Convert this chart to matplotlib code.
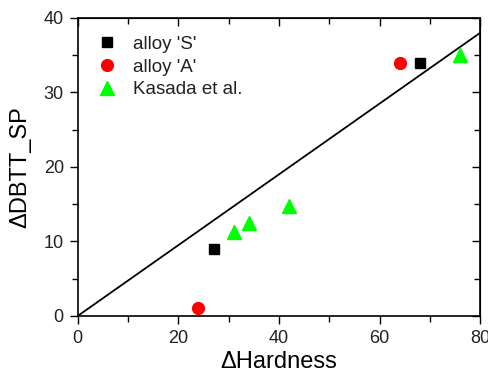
import matplotlib
matplotlib.use('Agg')
import matplotlib.pyplot as plt
from matplotlib.ticker import MultipleLocator

plt.rcParams['font.family'] = ['Liberation Sans', 'DejaVu Sans']
plt.rcParams['text.color'] = '#222222'
plt.rcParams['xtick.labelcolor'] = '#222222'
plt.rcParams['ytick.labelcolor'] = '#222222'

# data
s_hardness = [27, 68]
s_dbtt = [9, 34]
a_hardness = [24, 64]
a_dbtt = [1, 34]
kasada_hardness = [31, 34, 42, 76]
kasada_dbtt = [11.2, 12.5, 14.8, 35]
fit_x = [0, 80]
fit_slope = 0.475


def main():
  fig = plt.figure(figsize=(4.89, 3.73), dpi=100)
  ax = fig.add_axes([0.159, 0.153, 0.823, 0.799])

  ax.plot(fit_x, [fit_slope * x for x in fit_x], color='black', lw=1.3, zorder=2)
  ax.plot(s_hardness, s_dbtt, 's', color='black', ms=7.5, label="alloy 'S'", zorder=3)
  ax.plot(a_hardness, a_dbtt, 'o', color='red', ms=8.5, label="alloy 'A'", zorder=3)
  ax.plot(kasada_hardness, kasada_dbtt, '^', color='#00ff00', ms=10, label='Kasada et al.', zorder=3)

  ax.set_xlim(0, 80)
  ax.set_ylim(0, 40)
  ax.xaxis.set_major_locator(MultipleLocator(20))
  ax.xaxis.set_minor_locator(MultipleLocator(10))
  ax.yaxis.set_major_locator(MultipleLocator(10))
  ax.yaxis.set_minor_locator(MultipleLocator(5))
  ax.tick_params(which='both', direction='out', labelsize=13, width=1, pad=4)
  ax.tick_params(which='major', length=6)
  ax.tick_params(which='minor', length=4)

  # inward ticks on top and right
  for spine in ax.spines.values():
    spine.set_linewidth(1.2)
  sec = ax.secondary_xaxis('top')
  sec.xaxis.set_major_locator(MultipleLocator(20))
  sec.xaxis.set_minor_locator(MultipleLocator(10))
  sec.tick_params(which='both', direction='in', labeltop=False, width=1)
  sec.tick_params(which='major', length=6)
  sec.tick_params(which='minor', length=4)
  secy = ax.secondary_yaxis('right')
  secy.yaxis.set_major_locator(MultipleLocator(10))
  secy.yaxis.set_minor_locator(MultipleLocator(5))
  secy.tick_params(which='both', direction='in', labelright=False, width=1)
  secy.tick_params(which='major', length=6)
  secy.tick_params(which='minor', length=4)

  ax.set_xlabel('\u0394Hardness', fontsize=17, labelpad=3)
  ax.set_ylabel('\u0394DBTT_SP', fontsize=17, labelpad=9)

  ax.legend(loc='upper left', frameon=False, fontsize=13.5, handletextpad=0.8,
            borderaxespad=0.55, labelspacing=0.3, handlelength=1.2)

  fig.savefig('out.png', dpi=100)


if __name__ == "__main__":
  main()
